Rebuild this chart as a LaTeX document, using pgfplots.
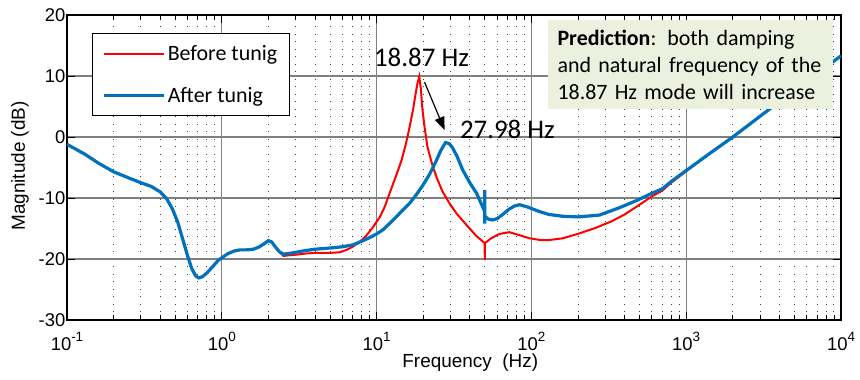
\documentclass[border=0pt]{standalone}
\usepackage{fontspec}
\setmainfont{Liberation Sans}
\newfontfamily\calibri{Carlito}
\usepackage{pgfplots}
\pgfplotsset{compat=1.18}
\usetikzlibrary{arrows.meta}
\definecolor{myred}{RGB}{255,0,0}
\definecolor{myblue}{RGB}{0,114,189}
\definecolor{boxgreen}{RGB}{235,241,222}
\newcommand{\tenp}[1]{10\raisebox{8.5bp}{\fontsize{13.5}{13.5}\selectfont #1}}

\pgfplotstableread{
f dB
0.1 -1.2
0.13 -2.8
0.16 -4.3
0.2 -5.7
0.25 -6.7
0.3 -7.5
0.35 -8.1
0.4 -9.0
0.44 -10.1
0.48 -11.8
0.52 -14.0
0.56 -16.8
0.6 -19.4
0.64 -21.6
0.68 -22.8
0.71 -23.1
0.75 -22.9
0.8 -22.3
0.87 -21.3
0.95 -20.2
1.0 -19.8
1.1 -19.1
1.2 -18.7
1.31 -18.5
1.45 -18.5
1.6 -18.4
1.75 -18.0
1.9 -17.4
2.0 -17.0
2.1 -17.2
2.2 -17.9
2.35 -18.8
2.5 -19.5
2.7 -19.4
3.0 -19.3
3.5 -19.1
4.0 -19.0
5.0 -19.0
5.77 -18.9
6.4 -18.5
7.0 -18.0
7.76 -17.2
8.5 -16.3
9.4 -14.9
10.5 -13.1
11.3 -11.4
12.1 -9.3
13.3 -6.5
14.5 -3.8
15.4 -1.3
16.3 1.5
17.2 4.5
17.9 7.2
18.4 8.9
18.87 9.9
19.3 8.0
19.8 4.4
20.5 1.3
21.3 -1.6
22.8 -4.4
24.4 -6.6
26.5 -8.8
29.6 -10.9
33.0 -12.6
38 -14.4
44 -16.2
49.9 -17.4
50 -20.2
50.1 -17.4
55 -16.6
62 -15.9
72 -15.6
84 -16.1
97 -16.6
115 -16.9
130 -16.9
160 -16.6
204 -15.8
260 -14.9
331 -13.8
400 -12.7
500 -11.1
603 -9.7
700 -8.8
800 -7.5
1000 -5.6
1400 -2.8
2000 0.0
3000 3.4
4000 5.8
6000 9.2
8000 11.5
10000 13.3
}\before

\pgfplotstableread{
f dB
0.1 -1.2
0.13 -2.8
0.16 -4.3
0.2 -5.7
0.25 -6.7
0.3 -7.5
0.35 -8.1
0.4 -9.0
0.44 -10.1
0.48 -11.8
0.52 -14.0
0.56 -16.8
0.6 -19.4
0.64 -21.6
0.68 -22.8
0.71 -23.1
0.75 -22.9
0.8 -22.3
0.87 -21.3
0.95 -20.2
1.0 -19.8
1.1 -19.1
1.2 -18.7
1.31 -18.5
1.45 -18.5
1.6 -18.4
1.75 -18.0
1.9 -17.4
2.0 -17.0
2.1 -17.2
2.2 -17.9
2.35 -18.8
2.5 -19.2
2.7 -19.1
3.0 -18.9
3.5 -18.6
4.0 -18.4
5.0 -18.2
6.0 -18.0
7.0 -17.7
8.0 -17.1
9.0 -16.5
10.0 -15.9
11.0 -15.2
12.1 -14.2
13.5 -13.0
15.0 -11.8
16.3 -10.9
18.0 -9.5
19.8 -8.0
22.0 -6.1
24.4 -3.8
26.0 -2.2
27.9 -0.9
29.5 -1.1
31.0 -1.8
33.0 -3.1
36.0 -5.4
40.0 -7.5
44.2 -9.2
47.0 -10.7
49.9 -12.2
50 -8.7
50 -14.2
50.1 -13.0
53 -13.5
56 -13.6
60 -13.4
66 -12.6
72 -11.8
78 -11.3
84 -11.1
95 -11.5
112 -12.2
130 -12.7
160 -13.0
200 -13.1
275 -12.8
370 -11.6
480 -10.4
603 -9.2
700 -8.5
800 -7.3
1000 -5.5
1400 -2.8
2000 0.0
3000 3.4
4000 5.8
6000 9.2
8000 11.5
10000 13.3
}\after

\begin{document}
\begin{tikzpicture}
\useasboundingbox (-67bp,-60bp) rectangle (793bp,320bp);
\begin{axis}[
  scale only axis, width=774bp, height=305bp,
  xmode=log, xmin=0.1, xmax=10000, ymin=-30, ymax=20,
  xtick={0.1,1,10,100,1000,10000},
  xticklabels={\tenp{-1},\tenp{0},\tenp{1},\tenp{2},\tenp{3},\tenp{4}},
  minor xtick={0.2,0.3,0.4,0.5,0.6,0.7,0.8,0.9,2,3,4,5,6,7,8,9,20,30,40,50,60,70,80,90,200,300,400,500,600,700,800,900,2000,3000,4000,5000,6000,7000,8000,9000},
  ytick={-30,-20,-10,0,10,20},
  yticklabels={-30,-20,-10,0,10,20},
  ticklabel style={font=\fontsize{18.5}{21}\selectfont},
  yticklabel style={inner xsep=1.5bp},
  xticklabel style={yshift=-9bp},
  xmajorgrids, ymajorgrids, xminorgrids,
  major grid style={line width=1.2bp, black!50},
  minor grid style={dash pattern=on 1.2bp off 6.3bp, black!75, line width=0.9bp},
  tick style={black, line width=0.8bp},
  major tick length=8bp, minor tick length=5bp,
  axis line style={line width=1.2bp},
  xlabel={Frequency\ \ (Hz)}, ylabel={Magnitude (dB)},
  label style={font=\fontsize{19}{22}\selectfont},
  xlabel style={at={(axis description cs:0.521,-0.141)}, anchor=center},
  ylabel style={at={(axis description cs:-0.0607,0.505)}, anchor=center},
  legend style={at={(0.0323,0.941)}, anchor=north west, draw=black, line width=1.2bp,
    font=\calibri\fontsize{22}{26}\selectfont, inner xsep=10bp, inner ysep=10bp, row sep=21bp,
    cells={anchor=west}},
  legend image code/.code={\draw[#1] (0bp,0bp) -- (51bp,0bp); \path (0bp,0bp) -- (60bp,0bp);},
]
\addplot[myred, line width=2bp] table[x=f,y=dB] {\before};
\addlegendentry{Before tunig}
\addplot[myblue, line width=3.2bp] table[x=f,y=dB] {\after};
\addlegendentry{After tunig}

\node[font=\calibri\fontsize{27}{30}\selectfont, anchor=center] at (axis cs:19.5,13.1) {18.87 Hz};
\node[font=\calibri\fontsize{27}{30}\selectfont, anchor=center] at (axis cs:70,1.3) {27.98 Hz};
\draw[line width=1.2bp, -{Triangle[length=13bp,width=10bp]}] (axis cs:20.4,9.0) -- (axis cs:27.5,1.15);
\node[fill=boxgreen, anchor=north west, text width=265bp, inner xsep=10bp, inner ysep=5bp, align=left,
  font=\calibri\fontsize{22}{27}\selectfont, minimum height=89bp] at (axis cs:126.8,19.2)
  {\textbf{Prediction}: both damping\\and natural frequency of the\\18.87 Hz mode will increase};
\end{axis}
\end{tikzpicture}
\end{document}
